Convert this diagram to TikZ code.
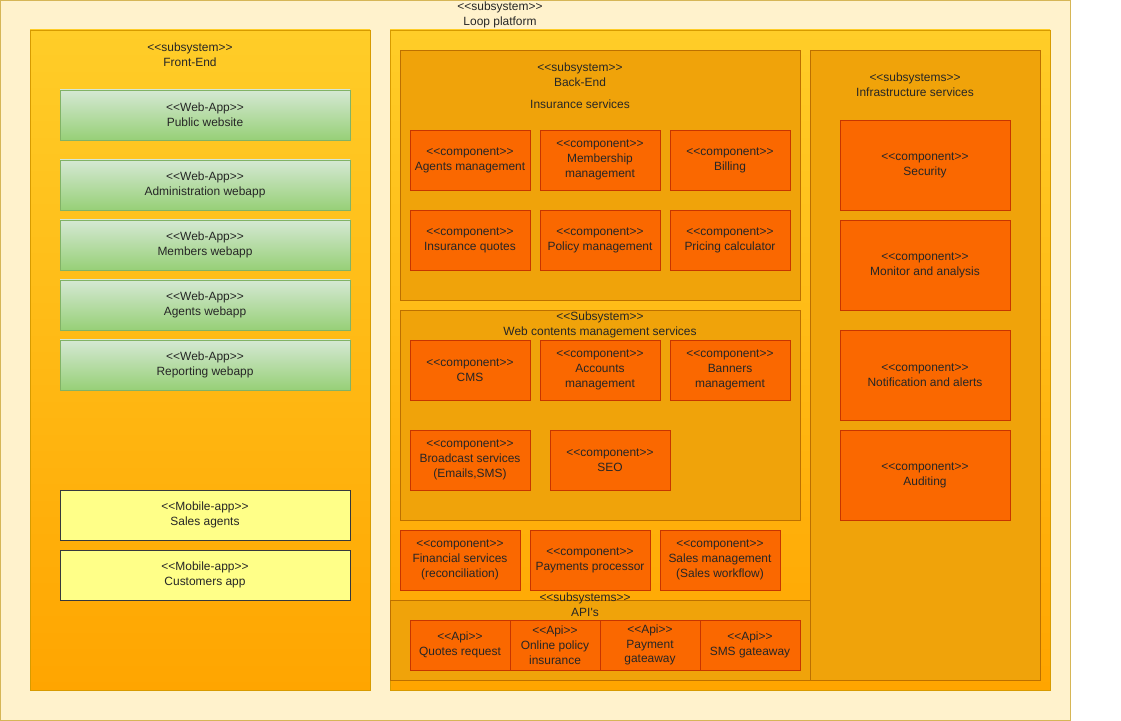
\documentclass[tikz,border=0pt]{standalone}
\usepackage{fontspec}
\newfontfamily\diagfont{Liberation Sans}
\usetikzlibrary{positioning}
\definecolor{lpback}{HTML}{FFF2CC}
\definecolor{lpline}{HTML}{D6B656}
\definecolor{subtop}{HTML}{FFCD28}
\definecolor{subbot}{HTML}{FFA500}
\definecolor{subline}{HTML}{D79B00}
\definecolor{grpfill}{HTML}{F0A30A}
\definecolor{grpline}{HTML}{BD7000}
\definecolor{compfill}{HTML}{FA6800}
\definecolor{compline}{HTML}{C73500}
\definecolor{webtop}{HTML}{D5E8D4}
\definecolor{webbot}{HTML}{97D077}
\definecolor{webline}{HTML}{82B366}
\definecolor{mobfill}{HTML}{FFFF88}
\definecolor{mobline}{HTML}{36393D}

\begin{document}
\begin{tikzpicture}[
    base/.style={draw, line width=0.7pt, inner sep=0pt, outer sep=0pt, align=center,
                 font=\diagfont\fontsize{8.5}{10.6}\selectfont, text=black!85},
    title/.style={base, draw=none},
    platform/.style={base, fill=lpback, draw=lpline},
    subsys/.style={base, top color=subtop, bottom color=subbot, draw=subline},
    group/.style={base, fill=grpfill, draw=grpline},
    comp/.style={base, fill=compfill, draw=compline, minimum width=3cm, minimum height=1.5cm},
    infra/.style={comp, minimum width=4.25cm, minimum height=2.25cm},
    api/.style={comp, minimum width=2.5cm, minimum height=1.25cm},
    webapp/.style={base, top color=webtop, bottom color=webbot, draw=webline,
                   minimum width=7.25cm, minimum height=1.25cm},
    mobile/.style={base, fill=mobfill, draw=mobline, minimum width=7.25cm, minimum height=1.25cm}
]
\useasboundingbox (0,0) rectangle (28.025,-18.025);

% containers
\node[platform, minimum width=26.75cm, minimum height=18cm] (loop) at (13.3875,-9.0125) {};
\node[title] (looplbl) at (12.5,-0.375) {<<subsystem>>\\Loop platform};

\node[subsys, minimum width=8.5cm, minimum height=16.5cm] (frontend) at (5,-9) {};
\node[title] (frontlbl) at (4.75,-1.3625) {<<subsystem>>\\Front-End};

\node[subsys, minimum width=16.5cm, minimum height=16.5cm] (inner) at (18,-9) {};

\node[group, minimum width=10cm, minimum height=6.25cm] (backend) at (15,-4.375) {};
\node[title] (backlbl) at (14.5,-1.8625) {<<subsystem>>\\Back-End};
\node[title] (inslbl) at (14.5,-2.6) {Insurance services};

\node[group, minimum width=10cm, minimum height=5.25cm] (wcms) at (15,-10.375) {};
\node[title] (wcmslbl) at (15,-8.1125) {<<Subsystem>>\\Web contents management services};

\node[group, minimum width=5.75cm, minimum height=15.75cm] (infrastructure) at (23.125,-9.125) {};
\node[title] (infralbl) at (22.875,-2.1125) {<<subsystems>>\\Infrastructure services};

\node[group, minimum width=10.5cm, minimum height=2cm] (apis) at (15,-16) {};

% front-end apps
\node[webapp] (public) at (5.125,-2.875) {<<Web-App>>\\Public website};
\node[webapp] (admin) at (5.125,-4.625) {<<Web-App>>\\Administration webapp};
\node[webapp, below=0.25cm of admin] (members) {<<Web-App>>\\Members webapp};
\node[webapp, below=0.25cm of members] (agentsweb) {<<Web-App>>\\Agents webapp};
\node[webapp, below=0.25cm of agentsweb] (reporting) {<<Web-App>>\\Reporting webapp};

\node[mobile] (salesapp) at (5.125,-12.875) {<<Mobile-app>>\\Sales agents};
\node[mobile, below=0.25cm of salesapp] (custapp) {<<Mobile-app>>\\Customers app};

% back-end components
\node[comp] (agents) at (11.75,-4) {<<component>>\\Agents management};
\node[comp, right=0.25cm of agents] (membership) {<<component>>\\Membership\\management};
\node[comp, right=0.25cm of membership] (billing) {<<component>>\\Billing};
\node[comp, below=0.5cm of agents] (quotes) {<<component>>\\Insurance quotes};
\node[comp, right=0.25cm of quotes] (policy) {<<component>>\\Policy management};
\node[comp, right=0.25cm of policy] (pricing) {<<component>>\\Pricing calculator};

% web contents components
\node[comp] (cms) at (11.75,-9.25) {<<component>>\\CMS};
\node[comp, right=0.25cm of cms] (accounts) {<<component>>\\Accounts\\management};
\node[comp, right=0.25cm of accounts] (banners) {<<component>>\\Banners\\management};
\node[comp] (broadcast) at (11.75,-11.5) {<<component>>\\Broadcast services\\(Emails,SMS)};
\node[comp] (seo) at (15.25,-11.5) {<<component>>\\SEO};

\node[comp] (financial) at (11.5,-14) {<<component>>\\Financial services\\(reconciliation)};
\node[comp, right=0.25cm of financial] (payments) {<<component>>\\Payments processor};
\node[comp, right=0.25cm of payments] (sales) {<<component>>\\Sales management\\(Sales workflow)};

% apis
\node[title] (apilbl) at (14.625,-15.1125) {<<subsystems>>\\API's};
\node[api] (quotereq) at (11.5,-16.125) {<<Api>>\\Quotes request};
\node[api, minimum width=2.25cm, right=0cm of quotereq] (online) {<<Api>>\\Online policy\\insurance};
\node[api, right=0cm of online] (paygate) {<<Api>>\\Payment\\gateaway};
\node[api, right=0cm of paygate] (smsgate) {<<Api>>\\SMS gateaway};

% infrastructure components
\node[infra] (security) at (23.125,-4.125) {<<component>>\\Security};
\node[infra, below=0.25cm of security] (monitor) {<<component>>\\Monitor and analysis};
\node[infra] (notify) at (23.125,-9.375) {<<component>>\\Notification and alerts};
\node[infra, below=0.25cm of notify] (auditing) {<<component>>\\Auditing};

\end{tikzpicture}
\end{document}
